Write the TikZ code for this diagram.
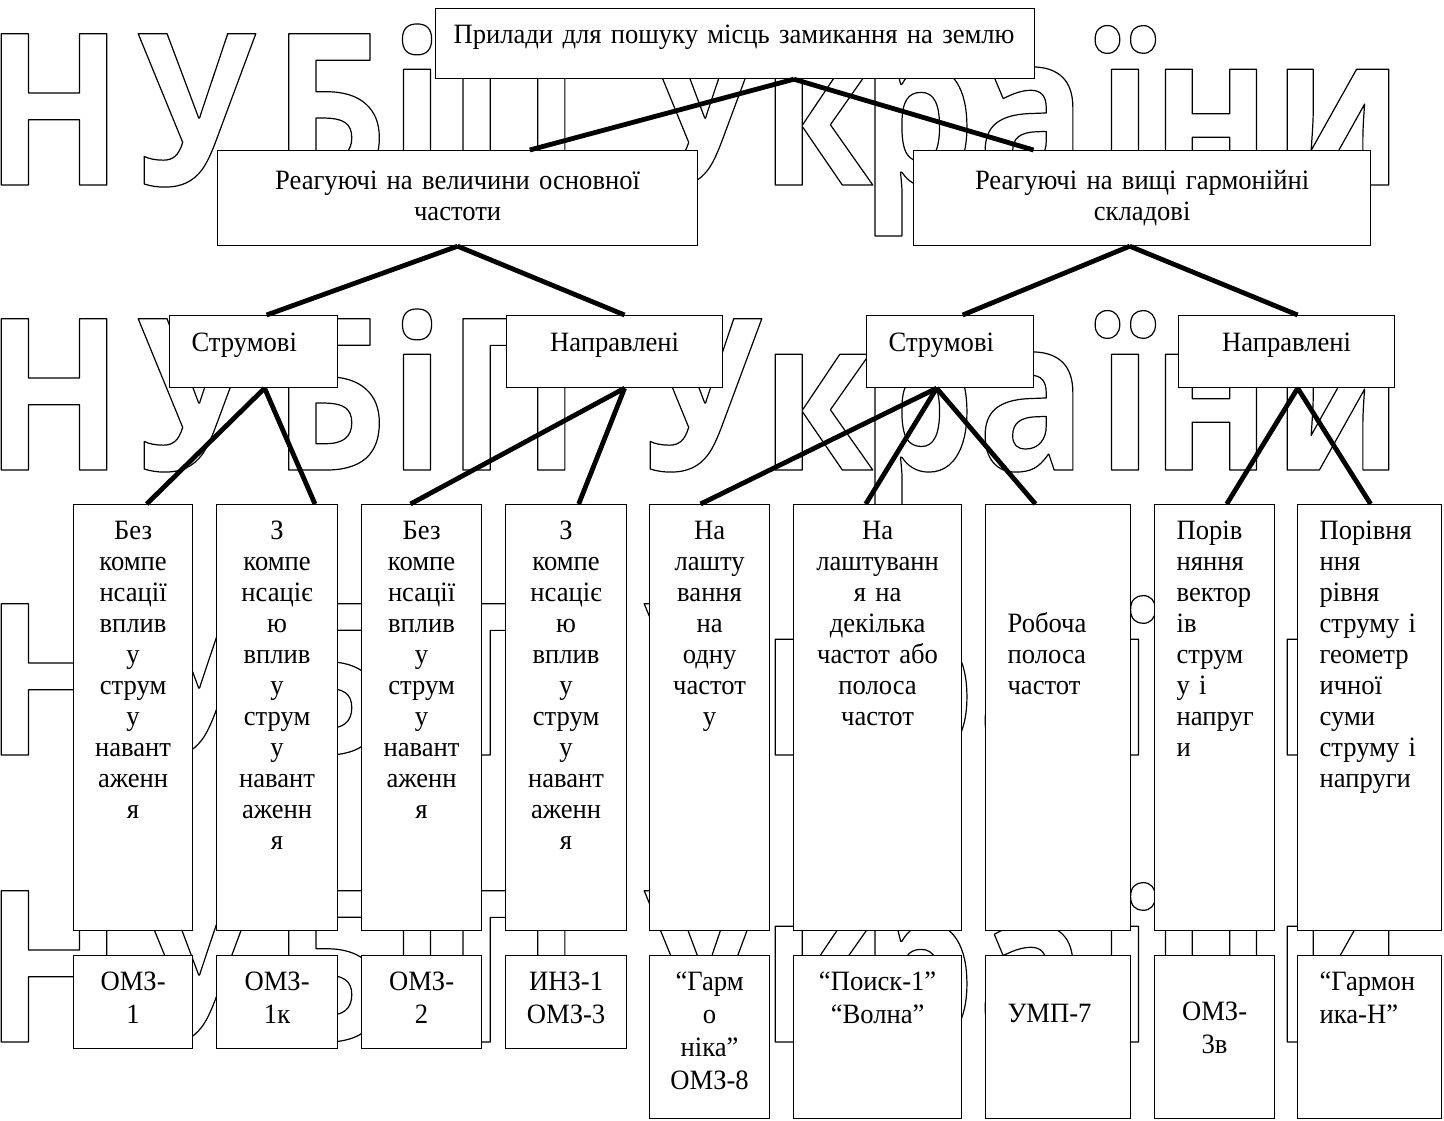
\documentclass[tikz,border=0pt]{standalone}
\usepackage{fontspec}
\setmainfont{Liberation Serif}[FakeStretch=0.95]
\newfontfamily\wmfont[FakeStretch=0.85]{Open Sans}
\usetikzlibrary{calc}

% outlined letters of the watermark
\newcommand{\hollow}[1]{\special{pdf:literal direct 1 Tr 0.6 w 1 j 0 G}#1\special{pdf:literal direct 0 Tr}}

\begin{document}
\begin{tikzpicture}[x=0.5pt,y=-0.5pt,
  blk/.style={draw, fill=white, line width=0.6pt, anchor=north west,
    inner ysep=0pt, inner xsep=2pt, align=center,
    font={\fontsize{14}{15.5}\selectfont}},
  lft/.style={align=left, inner xsep=11pt},
  tall/.style={text height=17.5pt, text depth=195.5pt},
  small/.style={text height=17.5pt, text depth=29pt, font={\fontsize{14}{16.5}\selectfont}},
  long/.style={text height=17.5pt, text depth=64pt, font={\fontsize{14}{16.5}\selectfont}},
  conn/.style={line width=2.4pt},
  wm/.style={anchor=base, inner sep=0pt, font={\wmfont\bfseries\fontsize{106}{106}\selectfont}}]

  \useasboundingbox (0,0) rectangle (1444,1120);

  % watermark rows, one letter at a time
  \foreach \y [count=\r] in {185,470,755,1042}
    \foreach \c/\x [count=\k] in {Н/54,У/197,Б/330,і/417,П/514,У/703,к/817,р/918,а/1032,ї/1125,н/1211,и/1338}
      \node[wm] (wm\r-\k) at (\x,\y) {\hollow{\c}};

  % top levels
  \node[blk, lft, inner xsep=9pt, text width=281.5pt, text height=17.5pt, text depth=17.5pt] (title) at (435,8)
    {Прилади для пошуку місць замикання на землю};
  \node[blk, text width=236pt, text height=19.5pt, text depth=28pt] (reg1) at (217,150)
    {Реагуючі на величини основної\\частоти};
  \node[blk, text width=224.5pt, text height=19.5pt, text depth=28pt] (reg2) at (913,150)
    {Реагуючі на вищі гармонійні\\складові};

  \node[blk, lft, text width=62pt, text height=18pt, text depth=18pt] (cur1) at (169,315) {Струмові};
  \node[blk, text width=104pt, text height=18pt, text depth=18pt] (dir1) at (506,315) {Направлені};
  \node[blk, lft, text width=61.5pt, text height=18pt, text depth=18pt] (cur2) at (866,315) {Струмові};
  \node[blk, text width=104pt, text height=18pt, text depth=18pt] (dir2) at (1178,315) {Направлені};

  % principle boxes
  \node[blk, tall, text width=55.5pt] (t1) at (73,504)
    {Без\\компе\\нсації\\вплив\\у\\струм\\у\\навант\\аженн\\я};
  \node[blk, tall, text width=56.5pt] (t2) at (216,504)
    {З\\компе\\нсаціє\\ю\\вплив\\у\\струм\\у\\навант\\аженн\\я};
  \node[blk, tall, text width=56pt] (t3) at (361,504)
    {Без\\компе\\нсації\\вплив\\у\\струм\\у\\навант\\аженн\\я};
  \node[blk, tall, text width=56.5pt] (t4) at (505,504)
    {З\\компе\\нсаціє\\ю\\вплив\\у\\струм\\у\\навант\\аженн\\я};
  \node[blk, tall, text width=56pt] (t5) at (649,504)
    {На\\лашту\\вання\\на\\одну\\частот\\у};
  \node[blk, tall, text width=80pt] (t6) at (793,504)
    {На\\лаштуванн\\я на\\декілька\\частот або\\полоса\\частот};
  \node[blk, lft, text width=50.5pt, text height=64pt, text depth=149pt] (t7) at (985,504)
    {Робоча\\полоса\\частот};
  \node[blk, tall, lft, text width=38pt] (t8) at (1154,504)
    {Порів\\няння\\вектор\\ів\\струм\\у~і\\напруг\\и};
  \node[blk, tall, lft, text width=50pt] (t9) at (1297,504)
    {Порівня\\ння\\рівня\\струму~і\\геометр\\ичної\\суми\\струму~і\\напруги};

  % devices
  \node[blk, small, text width=55.5pt] (s1) at (73,955) {ОМЗ-\\1};
  \node[blk, small, text width=56.5pt] (s2) at (216,955) {ОМЗ-\\1к};
  \node[blk, small, text width=56pt] (s3) at (361,955) {ОМЗ-\\2};
  \node[blk, small, text width=56.5pt] (s4) at (505,955) {ИНЗ-1\\ОМЗ-3};
  \node[blk, long, text width=56pt] (s5) at (649,955) {“Гарм\\о\\ніка”\\ОМЗ-8};
  \node[blk, long, text width=80pt] (s6) at (793,955) {“Поиск-1”\\“Волна”};
  \node[blk, long, lft, text width=50.5pt, text height=33.5pt, text depth=48pt] (s7) at (985,955) {УМП-7};
  \node[blk, long, text width=56pt, text height=32.5pt, text depth=49pt] (s8) at (1154,955) {ОМЗ-\\3в};
  \node[blk, long, lft, text width=50pt] (s9) at (1297,955) {“Гармон\\ика-Н”};

  % tree lines
  \foreach \a/\fa/\b/\fb in {title/.598/reg1/.65, title/.598/reg2/.263,
      reg1/.5/cur1/.577, reg1/.5/dir1/.546, reg2/.473/cur2/.575, reg2/.473/dir2/.551,
      cur1/.565/t1/.613, cur1/.565/t2/.81, dir1/.546/t3/.408, dir1/.546/t4/.603,
      cur2/.42/t5/.425, cur2/.42/t6/.43, cur2/.42/t7/.345,
      dir2/.551/t8/.6, dir2/.551/t9/.507}
    \draw[conn] ($(\a.south west)!\fa!(\a.south east)$) -- ($(\b.north west)!\fb!(\b.north east)$);
\end{tikzpicture}
\end{document}
